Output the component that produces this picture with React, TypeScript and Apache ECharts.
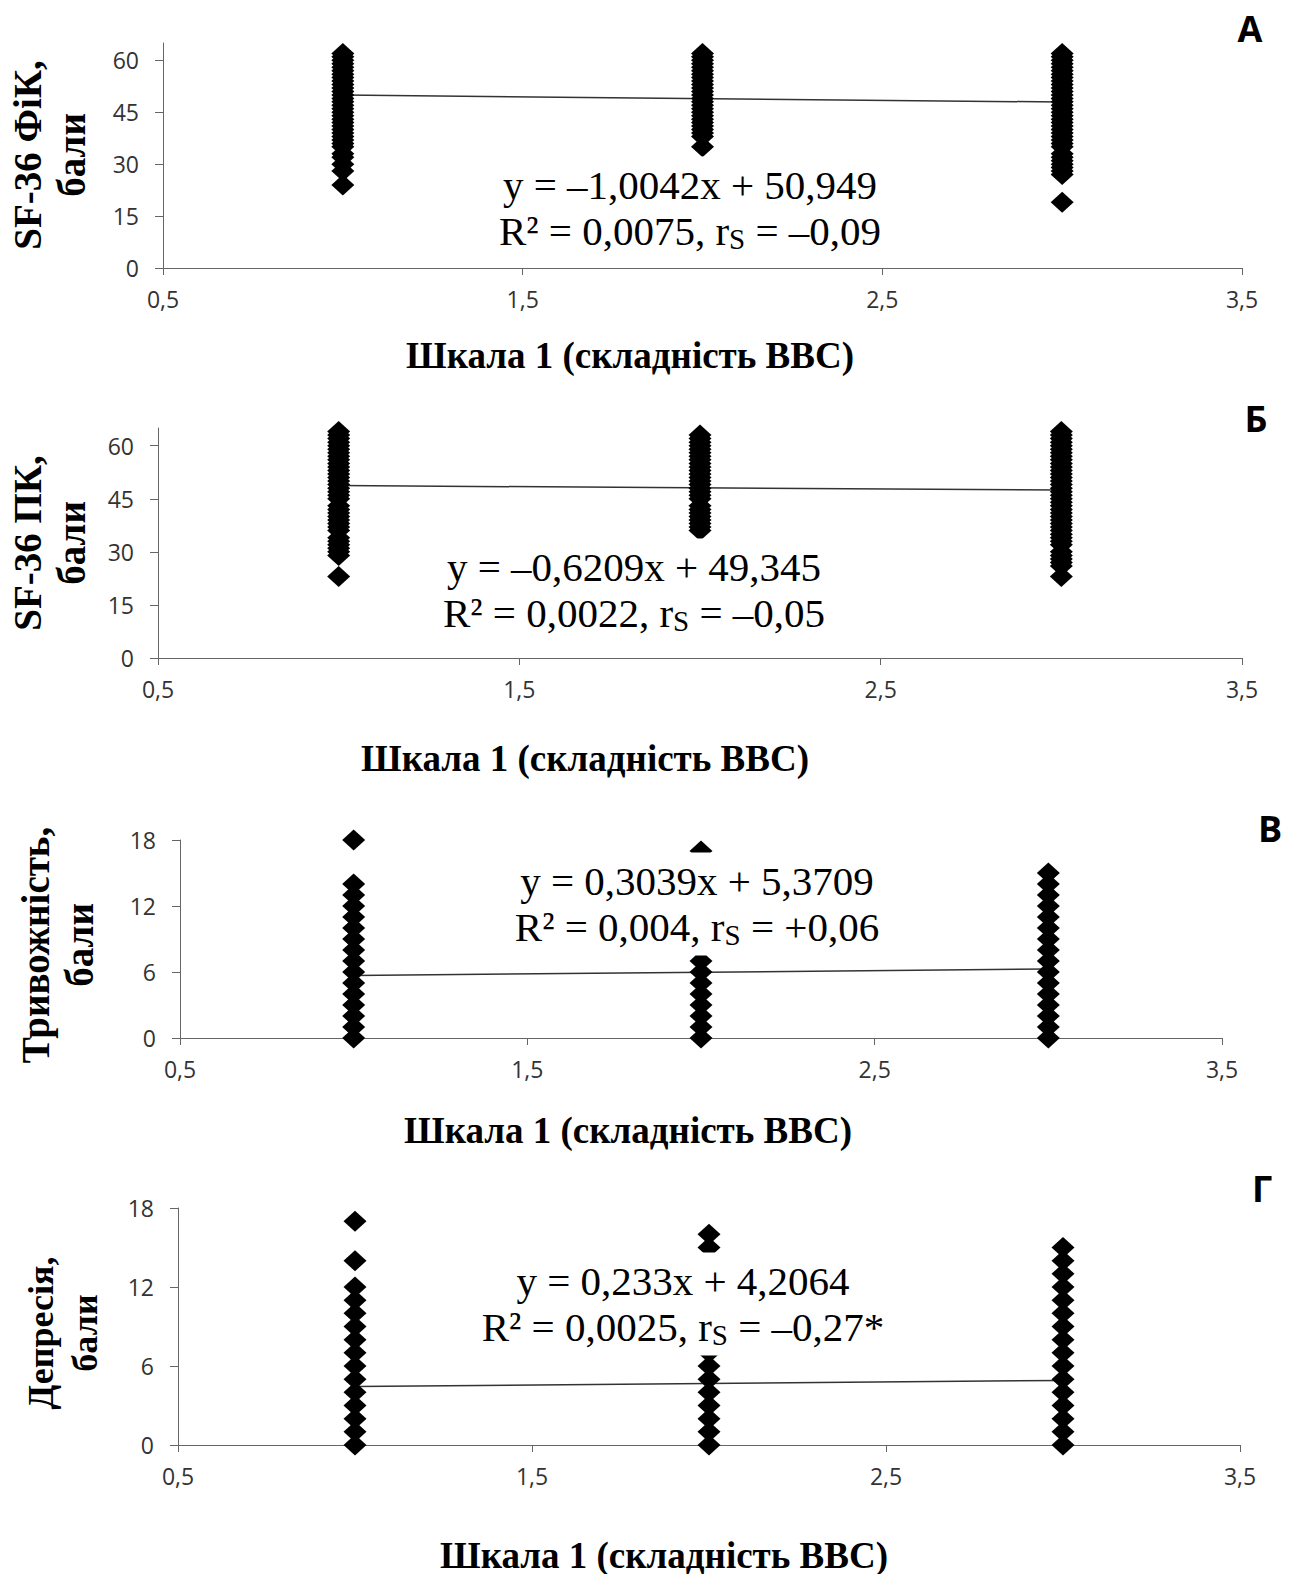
import React, { useEffect, useRef } from 'react';
import * as echarts from 'echarts';

// ---------- DATA ----------
const xTickValues = [0.5, 1.5, 2.5, 3.5];
const groupX = [1, 2, 3];

// Panel А: SF-36 ФіК
const fikG1 = [24, 28, 30, 32, 33, 35, 36, 37, 38, 39, 40, 41, 42, 43, 44, 45, 46, 47, 48, 49, 50, 51, 52, 53, 54, 55, 56, 57, 58, 59, 60, 61, 62];
const fikG2 = [35, 38, 39, 40, 41, 42, 43, 44, 45, 46, 47, 48, 49, 50, 51, 52, 53, 54, 55, 56, 57, 58, 59, 60, 61, 62];
const fikG3 = [19, 27, 28, 29, 30, 31, 32, 33, 35, 36, 37, 38, 39, 40, 41, 42, 43, 44, 45, 46, 47, 48, 49, 50, 51, 52, 53, 54, 55, 56, 57, 58, 59, 60, 61, 62];

// Panel Б: SF-36 ПК
const pkG1 = [23, 29, 30, 31, 32, 33, 34, 36, 37, 38, 39, 40, 41, 42, 43, 45, 46, 47, 48, 49, 50, 51, 52, 53, 54, 55, 56, 57, 58, 59, 60, 61, 62, 63, 64];
const pkG2 = [36, 37, 38, 39, 40, 41, 42, 43, 45, 46, 47, 48, 49, 50, 51, 52, 53, 54, 55, 56, 57, 58, 59, 60, 61, 62, 63];
const pkG3 = [23, 26, 27, 28, 29, 30, 32, 33, 34, 35, 36, 37, 38, 39, 40, 41, 42, 43, 44, 45, 46, 47, 48, 49, 50, 51, 52, 53, 54, 55, 56, 57, 58, 59, 60, 61, 62, 63, 64];

// Panel В: Тривожність
const anxG1 = [0, 1, 2, 3, 4, 5, 6, 7, 8, 9, 10, 11, 12, 13, 14, 18];
const anxG2 = [0, 1, 2, 3, 4, 5, 6, 7, 8, 9, 17];
const anxG3 = [0, 1, 2, 3, 4, 5, 6, 7, 8, 9, 10, 11, 12, 13, 14, 15];

// Panel Г: Депресія
const depG1 = [0, 1, 2, 3, 4, 5, 6, 7, 8, 9, 10, 11, 12, 14, 17];
const depG2 = [0, 1, 2, 3, 4, 5, 6, 7, 8, 15, 16];
const depG3 = [0, 1, 2, 3, 4, 5, 6, 7, 8, 9, 10, 11, 12, 13, 14, 15];

const panelGroups = [
  [fikG1, fikG2, fikG3],
  [pkG1, pkG2, pkG3],
  [anxG1, anxG2, anxG3],
  [depG1, depG2, depG3],
];

const panelLetters = ['А', 'Б', 'В', 'Г'];
const yTitles = [
  ['SF-36 ФіК,', 'бали'],
  ['SF-36 ПК,', 'бали'],
  ['Тривожність,', 'бали'],
  ['Депресія,', 'бали'],
];
const yTickValues = [
  [0, 15, 30, 45, 60],
  [0, 15, 30, 45, 60],
  [0, 6, 12, 18],
  [0, 6, 12, 18],
];
const yMax = [65, 65, 18, 18];
const slopes = [-1.0042, -0.6209, 0.3039, 0.233];
const intercepts = [50.949, 49.345, 5.3709, 4.2064];
const equationTexts = [
  'y = –1,0042x + 50,949',
  'y = –0,6209x + 49,345',
  'y = 0,3039x + 5,3709',
  'y = 0,233x + 4,2064',
];
const r2Texts = ['R² = 0,0075', 'R² = 0,0022', 'R² = 0,004', 'R² = 0,0025'];
const rsTexts = ['–0,09', '–0,05', '+0,06', '–0,27*'];
const xTitle = 'Шкала 1 (складність ВВС)';

// ---------- LAYOUT ----------
const grids = [
  { left: 163, top: 43, width: 1079, height: 225 },
  { left: 158, top: 428, width: 1084, height: 230 },
  { left: 180, top: 840, width: 1042, height: 198 },
  { left: 178, top: 1208, width: 1062, height: 237 },
];
const letterPos = [
  [1250, 28],
  [1256, 418],
  [1270, 828],
  [1262, 1188],
];
const xTitlePos = [
  [630, 355],
  [585, 758],
  [628, 1130],
  [664, 1555],
];
const yTitlePos = [
  [49, 155],
  [49, 543],
  [57, 945],
  [63, 1333],
];
const yTitleSize = [39, 39, 39, 36];
const eqPos = [
  [690, 208],
  [634, 590],
  [697, 904],
  [683, 1304],
];

const SERIF = '"Liberation Serif", "Times New Roman", serif';
const SANS = '"Open Sans", "Noto Sans", sans-serif';

function buildOption() {
  const series: any[] = [];
  const xAxis: any[] = [];
  const yAxis: any[] = [];
  const graphic: any[] = [];

  grids.forEach((g, i) => {
    xAxis.push({
      type: 'value',
      gridIndex: i,
      min: 0.5,
      max: 3.5,
      interval: 1,
      axisLine: { show: true, onZero: false, lineStyle: { color: '#666', width: 1 } },
      axisTick: { show: true, length: 7, customValues: xTickValues, lineStyle: { color: '#666' } },
      axisLabel: {
        customValues: xTickValues,
        formatter: (v: number) => String(v).replace('.', ','),
        fontFamily: SANS,
        fontSize: 23,
        color: '#333',
        margin: 19,
      },
      splitLine: { show: false },
    });
    yAxis.push({
      type: 'value',
      gridIndex: i,
      min: 0,
      max: yMax[i],
      axisLine: { show: true, lineStyle: { color: '#666', width: 1 } },
      axisTick: { show: true, length: 8, customValues: yTickValues[i], lineStyle: { color: '#666' } },
      axisLabel: {
        customValues: yTickValues[i],
        fontFamily: SANS,
        fontSize: 23,
        color: '#333',
        margin: 24,
      },
      splitLine: { show: false },
    });

    const pts: number[][] = [];
    panelGroups[i].forEach((vals, gi) => {
      vals.forEach((v) => pts.push([groupX[gi], v]));
    });
    series.push({
      type: 'line',
      xAxisIndex: i,
      yAxisIndex: i,
      data: [
        [groupX[0], intercepts[i] + slopes[i] * groupX[0]],
        [groupX[2], intercepts[i] + slopes[i] * groupX[2]],
      ],
      symbol: 'none',
      lineStyle: { color: '#333', width: 1.5 },
      z: 1,
      silent: true,
    });
    series.push({
      type: 'scatter',
      xAxisIndex: i,
      yAxisIndex: i,
      data: pts,
      symbol: 'diamond',
      symbolSize: [23, 21],
      itemStyle: { color: '#000', opacity: 1 },
      z: 2,
      silent: true,
    });

    graphic.push({
      type: 'text',
      x: letterPos[i][0],
      y: letterPos[i][1],
      z: 50,
      style: {
        text: panelLetters[i],
        fill: '#000',
        fontFamily: SANS,
        fontSize: 36,
        fontWeight: 'bold',
        align: 'center',
        verticalAlign: 'middle',
      },
    });
    graphic.push({
      type: 'text',
      x: xTitlePos[i][0],
      y: xTitlePos[i][1],
      z: 50,
      style: {
        text: xTitle,
        fill: '#000',
        fontFamily: SERIF,
        fontSize: 37,
        fontWeight: 'bold',
        align: 'center',
        verticalAlign: 'middle',
      },
    });
    graphic.push({
      type: 'text',
      x: yTitlePos[i][0],
      y: yTitlePos[i][1],
      rotation: Math.PI / 2,
      z: 50,
      style: {
        text: yTitles[i].join('\n'),
        fill: '#000',
        fontFamily: SERIF,
        fontSize: yTitleSize[i],
        fontWeight: 'bold',
        lineHeight: 44,
        align: 'center',
        verticalAlign: 'middle',
      },
    });
    graphic.push({
      type: 'text',
      x: eqPos[i][0],
      y: eqPos[i][1],
      z: 60,
      style: {
        text: equationTexts[i] + '\n' + r2Texts[i] + ', r{s|S} = ' + rsTexts[i],
        fill: '#000',
        fontFamily: SERIF,
        fontSize: 41,
        lineHeight: 46,
        align: 'center',
        verticalAlign: 'middle',
        backgroundColor: '#fff',
        padding: [5, 6, 6, 6],
        rich: {
          s: {
            fontFamily: SERIF,
            fontSize: 29,
            lineHeight: 19,
            verticalAlign: 'bottom',
            fill: '#000',
          },
        },
      },
    });
  });

  return {
    animation: false,
    backgroundColor: '#fff',
    grid: grids.map((g) => ({ ...g, containLabel: false })),
    xAxis,
    yAxis,
    series,
    graphic: { elements: graphic },
  };
}

export default function App() {
  const ref = useRef<HTMLDivElement>(null);
  useEffect(() => {
    if (!ref.current) return;
    const chart = echarts.init(ref.current, undefined, { renderer: 'svg' });
    chart.setOption(buildOption() as any);
    return () => chart.dispose();
  }, []);
  return (
    <div
      ref={ref}
      style={{ position: 'absolute', left: 0, top: 0, width: 1303, height: 1574, background: '#fff' }}
    />
  );
}
